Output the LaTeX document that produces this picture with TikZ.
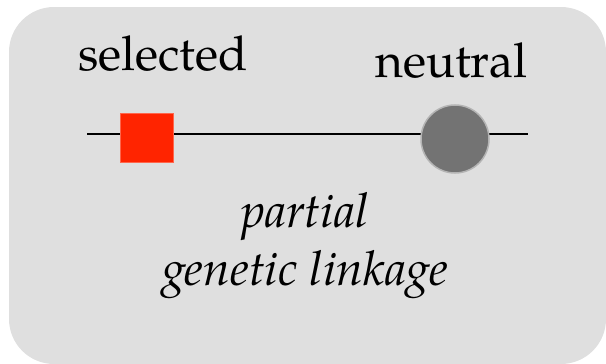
\documentclass[tikz,border=0pt]{standalone}
\usepackage{fontspec}
\setmainfont{texgyrepagella}[Extension=.otf, UprightFont=*-regular, ItalicFont=*-italic, BoldFont=*-bold]
\definecolor{bgcol}{RGB}{223,223,223}
\definecolor{selred}{RGB}{255,36,0}
\definecolor{neugray}{RGB}{115,115,115}
\definecolor{neuborder}{RGB}{180,180,180}
\tikzset{
  lbl/.style={inner sep=0pt, font=\fontsize{48}{58}\selectfont},
  itlbl/.style={inner sep=0pt, align=center, font=\fontsize{48}{58}\selectfont\itshape},
  selbox/.style={draw=selred!70!white, line width=0.6pt, fill=selred, minimum width=53pt, minimum height=49pt, inner sep=0pt},
  neucirc/.style={circle, draw=neuborder, line width=1.5pt, fill=neugray, minimum size=68pt, inner sep=0pt},
  chrom/.style={line width=2pt, black}
}
\begin{document}
\begin{tikzpicture}[x=1pt,y=-1pt]
\useasboundingbox (0,0) rectangle (606,364);
\fill[bgcol, rounded corners=45pt] (9,7) rectangle (606,364);
\coordinate (L) at (87,134);
\coordinate (R) at (528,134);
\draw[chrom] (L) -- (R);
\node[selbox] (sel) at (146.5,137.5) {};
\node[neucirc] (neu) at (455,139) {};
\node[lbl, anchor=base west] (tsel) at (78,70) {selected};
\node[lbl, anchor=base west] (tneu) at (375,77) {neutral};
\node[itlbl, anchor=base] (tlink) at (305,285) {partial\\genetic linkage};
\end{tikzpicture}
\end{document}
